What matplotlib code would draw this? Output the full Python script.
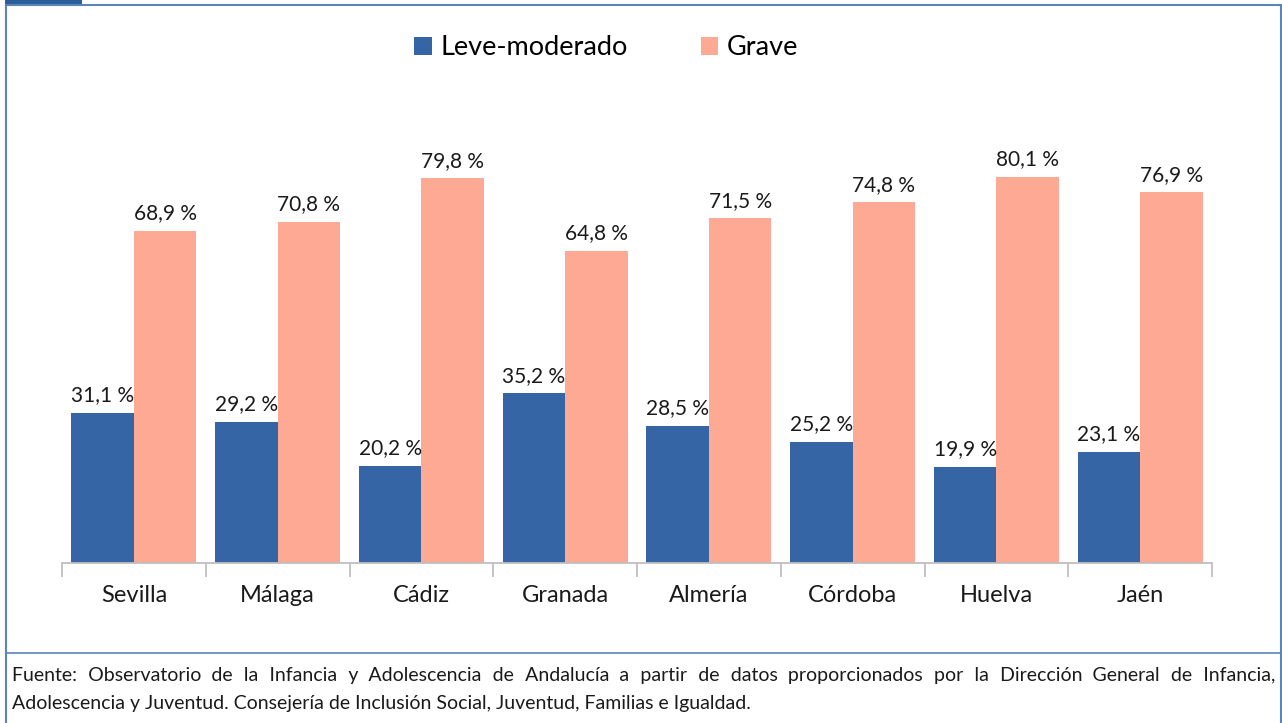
import numpy as np
import matplotlib.pyplot as plt
from matplotlib.lines import Line2D
from matplotlib.patches import Rectangle

provincias = ['Sevilla', 'Málaga', 'Cádiz', 'Granada', 'Almería', 'Córdoba', 'Huelva', 'Jaén']
leve = [31.1, 29.2, 20.2, 35.2, 28.5, 25.2, 19.9, 23.1]
grave = [68.9, 70.8, 79.8, 64.8, 71.5, 74.8, 80.1, 76.9]
series = ['Leve-moderado', 'Grave']
fuente1 = ('Fuente: Observatorio de la Infancia y Adolescencia de Andalucía a partir de datos '
           'proporcionados por la Dirección General de Infancia,')
fuente2 = 'Adolescencia y Juventud. Consejería de Inclusión Social, Juventud, Familias e Igualdad.'

azul = '#3565A5'
salmon = '#FEA994'
marco = '#5B84B8'

plt.rcParams['font.family'] = ['Lato', 'DejaVu Sans']

W, H = 1282, 723
fig = plt.figure(figsize=(W / 100, H / 100), dpi=100)

def fx(px):
    return px / W

def fy(py):
    return 1 - py / H

# marco exterior
fig.add_artist(Line2D([fx(6), fx(1281)], [fy(4.5), fy(4.5)], color=marco, lw=1.5))
fig.add_artist(Line2D([fx(6), fx(6)], [fy(4.5), fy(723)], color=marco, lw=1.5))
fig.add_artist(Line2D([fx(1280.5), fx(1280.5)], [fy(4.5), fy(723)], color=marco, lw=1.5))
fig.add_artist(Line2D([fx(6), fx(1281)], [fy(653), fy(653)], color=marco, lw=1.2))
fig.add_artist(Rectangle((fx(5), fy(5.5)), fx(77), 5.5 / H, color='#2B5E9B', lw=0))

# ejes
ymax = 90
ax = fig.add_axes([fx(62), 1 - 563 / H, fx(1150), 4.82 * ymax / H])
x = np.arange(len(provincias))
w = 0.435
b1 = ax.bar(x - w / 2, leve, w, color=azul, label=series[0])
b2 = ax.bar(x + w / 2, grave, w, color=salmon, label=series[1])

for bars, vals in [(b1, leve), (b2, grave)]:
    for r, v in zip(bars, vals):
        ax.text(r.get_x() + r.get_width() / 2, v + 1.6, f'{v:.1f} %'.replace('.', ','),
                ha='center', va='bottom', fontsize=15, color='#1a1a1a')

ax.set_xlim(-0.5, len(provincias) - 0.5)
ax.set_ylim(0, ymax)
ax.set_yticks([])
for s in ['top', 'right', 'left']:
    ax.spines[s].set_visible(False)
ax.spines['bottom'].set_color('#BFBFBF')
ax.spines['bottom'].set_linewidth(1.3)
ax.set_xticks(np.arange(-0.5, len(provincias)), minor=False)
ax.set_xticklabels([])
ax.tick_params(axis='x', length=10, width=1.3, color='#BFBFBF')
ax.set_xticks(x, minor=True)
ax.set_xticklabels(provincias, minor=True, fontsize=17, color='#1a1a1a')
ax.tick_params(axis='x', which='minor', length=0, pad=16)

ax.legend(loc='upper center', bbox_to_anchor=(fx(606), fy(11)),
          bbox_transform=fig.transFigure, ncol=2, frameon=False, fontsize=19.5,
          handlelength=0.65, handleheight=0.65, handletextpad=0.3, columnspacing=2.7)

# fuente: primera linea justificada rellenando huecos con espacios finos
fs = 14
x0, x1 = 12, 1275
renderer = fig.canvas.get_renderer()

def ancho(s):
    t = fig.text(0, 0, s, fontsize=fs)
    a = t.get_window_extent(renderer).width
    t.remove()
    return a

fino = '\u200a'
a_fino = ancho('a' + fino * 10 + 'a') - ancho('aa')
a_fino /= 10
palabras = fuente1.split(' ')
extra = (x1 - x0 - ancho(fuente1)) / (len(palabras) - 1)
linea = palabras[0]
acum = 0.0
usados = 0
for p in palabras[1:]:
    acum += extra / a_fino
    n = int(round(acum)) - usados
    usados += n
    linea += ' ' + fino * n + p
fig.text(fx(x0), fy(681), linea, fontsize=fs, va='baseline', color='#1a1a1a')
fig.text(fx(x0), fy(709), fuente2, fontsize=fs, va='baseline', color='#1a1a1a')

fig.savefig('out.png', dpi=100)
